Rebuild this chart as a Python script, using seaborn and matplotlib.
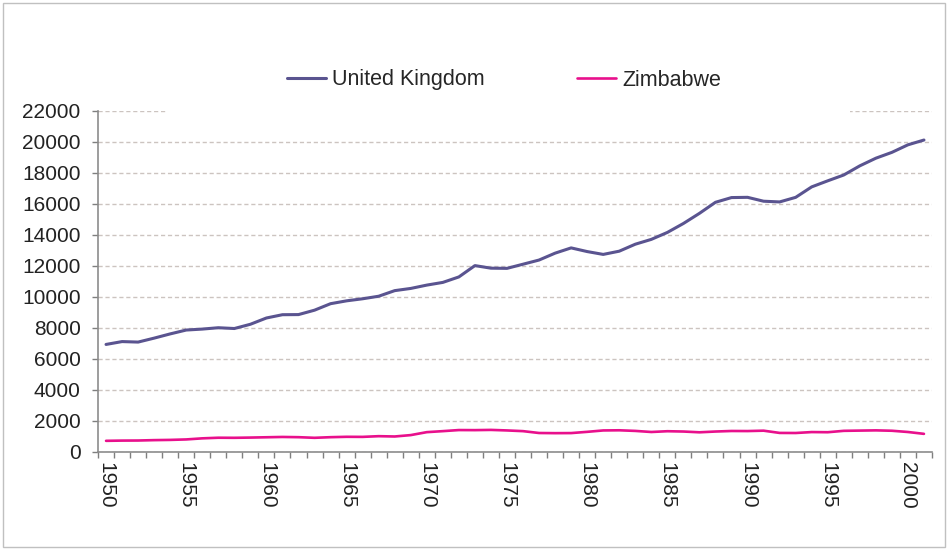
"""GDP per capita line chart: United Kingdom vs Zimbabwe, 1950-2001."""

import numpy as np
import pandas as pd
import matplotlib
matplotlib.use("Agg")
import matplotlib.pyplot as plt
from matplotlib.patches import Rectangle
from matplotlib.ticker import MultipleLocator, FixedLocator
import seaborn as sns

years = list(range(1950, 2002))

uk = [6939, 7123, 7091, 7346, 7619, 7868, 7929, 8017, 7966, 8240,
      8645, 8857, 8865, 9149, 9568, 9752, 9885, 10049, 10410, 10552,
      10767, 10941, 11294, 12025, 11859, 11847, 12115, 12384, 12828, 13167,
      12931, 12747, 12955, 13405, 13717, 14165, 14742, 15396, 16110, 16414,
      16430, 16179, 16133, 16428, 17104, 17495, 17871, 18461, 18954, 19331,
      19817, 20127]

zimbabwe = [720, 735, 740, 765, 780, 810, 880, 920, 915, 930,
            950, 970, 955, 915, 955, 980, 975, 1020, 1000, 1090,
            1280, 1345, 1415, 1410, 1425, 1390, 1345, 1225, 1215, 1220,
            1300, 1390, 1400, 1360, 1290, 1340, 1320, 1270, 1320, 1355,
            1350, 1375, 1230, 1225, 1285, 1275, 1365, 1380, 1395, 1370,
            1290, 1170]

countries = ["United Kingdom", "Zimbabwe"]
colors = ["#5A5490", "#E8108C"]
year_labels = list(range(1950, 2001, 5))

df = pd.concat([
    pd.DataFrame({"year": years, "value": uk, "country": countries[0]}),
    pd.DataFrame({"year": years, "value": zimbabwe, "country": countries[1]}),
])

sns.set_style("white")
plt.rcParams["font.family"] = ["Liberation Sans", "DejaVu Sans"]

fig = plt.figure(figsize=(9.48, 5.5), dpi=100)
ax = fig.add_axes([0.1034, 0.1782, 0.8797, 0.62])

sns.lineplot(data=df, x="year", y="value", hue="country",
             palette=dict(zip(countries, colors)), linewidth=2.2,
             legend=False, ax=ax)
ax.lines[1].set_linewidth(1.9)

ax.set_xlim(years[0] - 0.5, years[-1] + 0.5)
ax.set_ylim(0, 22000)
ax.yaxis.set_major_locator(MultipleLocator(2000))
ax.xaxis.set_major_locator(FixedLocator(year_labels))
ax.xaxis.set_minor_locator(FixedLocator(np.arange(years[0] - 0.5, years[-1] + 1, 1)))

ax.set_xlabel("")
ax.set_ylabel("")
ax.tick_params(axis="x", which="major", length=0, pad=7, labelsize=15,
               labelrotation=-90, labelcolor="#222222")
ax.tick_params(axis="x", which="minor", length=4.5, width=1, color="#7f7f7f",
               direction="out", bottom=True)
ax.tick_params(axis="y", length=4.5, width=1, color="#7f7f7f", direction="out",
               left=True, pad=8, labelsize=15, labelcolor="#222222")
for lbl in ax.get_xticklabels():
    lbl.set_verticalalignment("top")

ax.grid(axis="y", color="#CCC4C0", linestyle=(0, (3, 2)), linewidth=1)
ax.set_axisbelow(True)
for side in ["top", "right"]:
    ax.spines[side].set_visible(False)
for side in ["left", "bottom"]:
    ax.spines[side].set_color("#8c8c8c")
    ax.spines[side].set_linewidth(1.2)

# white band behind the legend (it hides the top gridline, as in the original)
fig.patches.append(Rectangle((0.176, 1 - 118 / 550), 0.7205, 70 / 550,
                             transform=fig.transFigure, facecolor="white",
                             edgecolor="none", zorder=2))
# outer chart border
fig.patches.append(Rectangle((0.003, 0.005), 0.994, 0.99,
                             transform=fig.transFigure, facecolor="none",
                             edgecolor="#c0c0c0", linewidth=1, zorder=3))

fig.legend(handles=ax.lines[:2], labels=countries, loc="center",
           bbox_to_anchor=(0.532, 1 - 80 / 550), ncol=2, frameon=False,
           fontsize=15.5, handlelength=1.8, handletextpad=0.3,
           columnspacing=4.3)

fig.savefig("out.png", dpi=100)
